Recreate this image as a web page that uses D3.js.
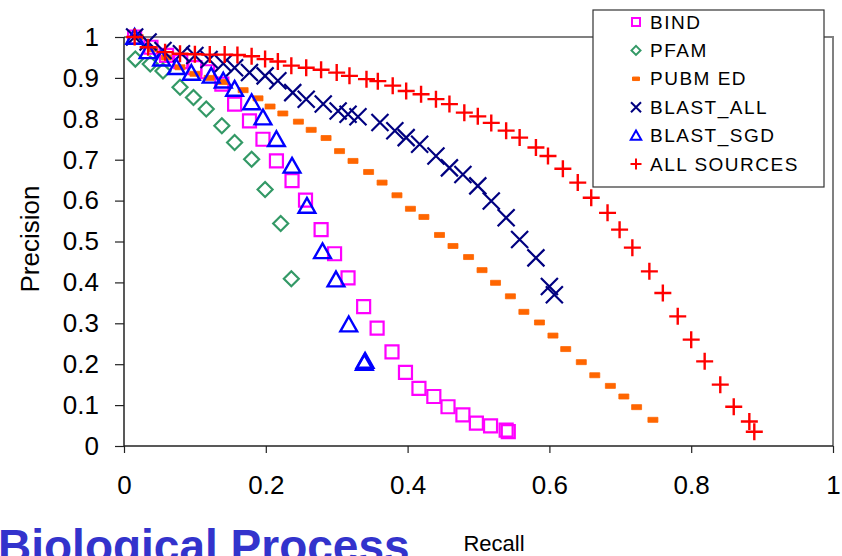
<!DOCTYPE html>
<html lang="en">
<head>
  <meta charset="UTF-8">
  <title>Precision vs Recall</title>
  <script src="https://d3js.org/d3.v7.min.js"></script>
  <style>
    body { margin: 0; background: #fff; }
    .tick text { font-family: "Liberation Sans", Arial, sans-serif; }
  </style>
</head>
<body>
  <svg id="svg1" width="842" height="556"></svg>
  <script>
    // [recall, precision] pairs
    const bind = [[0.015,1.0],[0.038,0.975],[0.06,0.955],[0.08,0.94],[0.1,0.925],[0.118,0.915],[0.138,0.885],
      [0.156,0.836],[0.177,0.795],[0.196,0.75],[0.215,0.697],[0.237,0.649],[0.256,0.601],[0.278,0.529],
      [0.297,0.47],[0.316,0.411],[0.338,0.341],[0.357,0.288],[0.378,0.23],[0.397,0.18],[0.416,0.141],
      [0.437,0.121],[0.457,0.096],[0.478,0.076],[0.497,0.056],[0.517,0.049],[0.539,0.039],[0.542,0.035]];
    const pfam = [[0.016,0.946],[0.037,0.934],[0.055,0.917],[0.079,0.877],[0.098,0.852],[0.116,0.824],
      [0.138,0.783],[0.156,0.742],[0.18,0.701],[0.199,0.627],[0.221,0.544],[0.236,0.409]];
    const pubmed = [[0.02,1.0],[0.04,0.97],[0.06,0.95],[0.079,0.926],[0.1,0.91],[0.12,0.9],[0.14,0.89],
      [0.168,0.87],[0.189,0.85],[0.206,0.83],[0.224,0.813],[0.246,0.793],[0.264,0.773],[0.285,0.753],
      [0.304,0.721],[0.323,0.697],[0.345,0.67],[0.364,0.644],[0.385,0.613],[0.404,0.58],[0.423,0.56],
      [0.445,0.516],[0.464,0.489],[0.486,0.462],[0.505,0.43],[0.524,0.399],[0.545,0.366],[0.564,0.328],
      [0.586,0.302],[0.605,0.27],[0.623,0.237],[0.645,0.205],[0.664,0.173],[0.686,0.147],[0.705,0.121],
      [0.723,0.095],[0.746,0.064]];
    const blastAll = [[0.015,1.0],[0.034,0.988],[0.055,0.967],[0.081,0.959],[0.1,0.955],[0.12,0.945],
      [0.14,0.935],[0.156,0.925],[0.177,0.913],[0.199,0.905],[0.217,0.893],[0.238,0.864],[0.257,0.848],
      [0.281,0.836],[0.302,0.819],[0.316,0.811],[0.33,0.805],[0.361,0.791],[0.382,0.771],[0.398,0.754],
      [0.417,0.738],[0.44,0.709],[0.459,0.68],[0.478,0.664],[0.499,0.636],[0.518,0.599],[0.539,0.558],
      [0.558,0.505],[0.581,0.46],[0.6,0.39],[0.607,0.37]];
    const blastSgd = [[0.015,1.0],[0.034,0.965],[0.053,0.947],[0.074,0.926],[0.095,0.912],[0.123,0.905],
      [0.14,0.893],[0.156,0.873],[0.18,0.84],[0.196,0.803],[0.215,0.75],[0.237,0.685],[0.258,0.587],
      [0.28,0.476],[0.299,0.407],[0.317,0.297],[0.339,0.203],[0.34,0.208]];
    const allSources = [[0.015,1.0],[0.034,0.975],[0.058,0.963],[0.079,0.959],[0.1,0.958],[0.121,0.957],
      [0.142,0.957],[0.16,0.956],[0.18,0.953],[0.199,0.946],[0.217,0.94],[0.236,0.93],[0.257,0.925],
      [0.278,0.92],[0.3,0.913],[0.318,0.905],[0.342,0.897],[0.358,0.892],[0.379,0.881],[0.398,0.868],
      [0.419,0.86],[0.44,0.848],[0.459,0.836],[0.48,0.815],[0.499,0.806],[0.518,0.79],[0.539,0.771],
      [0.558,0.754],[0.581,0.73],[0.598,0.709],[0.619,0.678],[0.64,0.644],[0.659,0.607],[0.682,0.57],
      [0.699,0.529],[0.717,0.485],[0.741,0.427],[0.76,0.374],[0.781,0.317],[0.8,0.26],[0.819,0.207],
      [0.841,0.15],[0.86,0.096],[0.882,0.06],[0.889,0.035]];

    const seriesNames = ["BIND", "PFAM", "PUBM ED", "BLAST_ALL", "BLAST_SGD", "ALL SOURCES"];
    const xTicks = [0, 0.2, 0.4, 0.6, 0.8, 1];
    const yTicks = [0, 0.1, 0.2, 0.3, 0.4, 0.5, 0.6, 0.7, 0.8, 0.9, 1];

    let svg1 = d3.select("svg#svg1");
    let margin = {top: 37, right: 9, bottom: 110, left: 124};
    let width = +svg1.attr("width");
    let height = +svg1.attr("height");
    let chartWidth = width - margin.left - margin.right;
    let chartHeight = height - margin.top - margin.bottom;

    const xScale = d3.scaleLinear().domain([0, 1]).range([0, chartWidth]);
    const yScale = d3.scaleLinear().domain([0, 1]).range([chartHeight, 0]);

    // marker shapes, s = half size
    const shapes = {
      square: s => `M${-s},${-s}h${2*s}v${2*s}h${-2*s}Z`,
      diamond: s => `M0,${-s}L${s},0L0,${s}L${-s},0Z`,
      dash: s => `M${-s},${-s*0.5}h${2*s}v${s}h${-2*s}Z`,
      cross: s => `M${-s},${-s}L${s},${s}M${-s},${s}L${s},${-s}`,
      triangle: s => `M0,${-s}L${s*1.05},${s*0.85}L${-s*1.05},${s*0.85}Z`,
      plus: s => `M${-s},0H${s}M0,${-s}V${s}`
    };

    const series = [
      {data: bind, shape: "square", size: 6.5, legendSize: 4, color: "#ff00ff", fill: "none", sw: 2.2},
      {data: pfam, shape: "diamond", size: 7.5, legendSize: 4.5, color: "#339966", fill: "none", sw: 2.2},
      {data: pubmed, shape: "dash", size: 5, legendSize: 3.5, color: "#ff6600", fill: "#ff6600", sw: 0.8},
      {data: blastAll, shape: "cross", size: 8.5, legendSize: 5, color: "#000080", fill: "none", sw: 2.2},
      {data: blastSgd, shape: "triangle", size: 8, legendSize: 5, color: "#0000ff", fill: "none", sw: 2.4},
      {data: allSources, shape: "plus", size: 8.5, legendSize: 5.5, color: "#ff0000", fill: "none", sw: 2.4}
    ];

    let chartArea = svg1.append("g")
                    .attr("transform", `translate(${margin.left},${margin.top})`);

    // gray frame (top + right)
    chartArea.append("path")
             .attr("d", `M0,0H${chartWidth}V${chartHeight}`)
             .attr("fill", "none")
             .attr("stroke", "#808080")
             .attr("stroke-width", 2);

    let leftAxis = d3.axisLeft(yScale).tickValues(yTicks).tickSize(9).tickPadding(16)
                     .tickFormat(d => String(d));
    let bottomAxis = d3.axisBottom(xScale).tickValues(xTicks).tickSize(7).tickPadding(23)
                       .tickFormat(d => String(d));

    let yAxisG = chartArea.append("g").call(leftAxis);
    let xAxisG = chartArea.append("g").attr("transform", `translate(0,${chartHeight})`).call(bottomAxis);
    [yAxisG, xAxisG].forEach(g => {
      g.selectAll(".domain").attr("stroke", "#222").attr("stroke-width", 1.5);
      g.selectAll(".tick line").attr("stroke", "#222").attr("stroke-width", 1.2);
      g.selectAll(".tick text").attr("font-size", 26).attr("fill", "#000");
    });
    yAxisG.select(".domain").attr("d", `M0,${chartHeight}V0`);
    xAxisG.select(".domain").attr("d", `M0,0H${chartWidth}`);

    // points
    series.forEach(s => {
      chartArea.append("g").selectAll("path")
        .data(s.data)
        .join("path")
        .attr("transform", d => `translate(${xScale(d[0])},${yScale(d[1])})`)
        .attr("d", shapes[s.shape](s.size))
        .attr("fill", s.fill)
        .attr("stroke", s.color)
        .attr("stroke-width", s.sw)
        .attr("stroke-linejoin", s.shape === "dash" ? "round" : "miter");
    });

    // legend
    let legend = svg1.append("g").attr("transform", "translate(593,10)");
    legend.append("rect")
          .attr("width", 231).attr("height", 177)
          .attr("fill", "#fff").attr("stroke", "#333").attr("stroke-width", 1.2);
    series.forEach((s, i) => {
      let cy = 12 + i * 28.4;
      legend.append("path")
            .attr("transform", `translate(43,${cy})`)
            .attr("d", shapes[s.shape](s.legendSize))
            .attr("fill", s.fill)
            .attr("stroke", s.color)
            .attr("stroke-width", s.shape === "dash" ? 1 : 2);
      legend.append("text")
            .attr("x", 57).attr("y", cy)
            .attr("dominant-baseline", "central")
            .style("font", "19px 'Liberation Sans', Arial, sans-serif")
            .attr("letter-spacing", 1.5)
            .text(seriesNames[i]);
    });

    // axis titles
    svg1.append("text")
        .attr("transform", "translate(39,239) rotate(-90)")
        .attr("text-anchor", "middle")
        .style("font", "26px 'Liberation Sans', Arial, sans-serif")
        .text("Precision");

    svg1.append("text")
        .attr("x", 494).attr("y", 551)
        .attr("text-anchor", "middle")
        .style("font", "22px 'Liberation Sans', Arial, sans-serif")
        .text("Recall");

    svg1.append("text")
        .attr("x", -2).attr("y", 562)
        .style("font", "bold 46px 'Liberation Sans', Arial, sans-serif")
        .attr("fill", "#3333cc")
        .text("Biological Process");
  </script>
</body>
</html>
